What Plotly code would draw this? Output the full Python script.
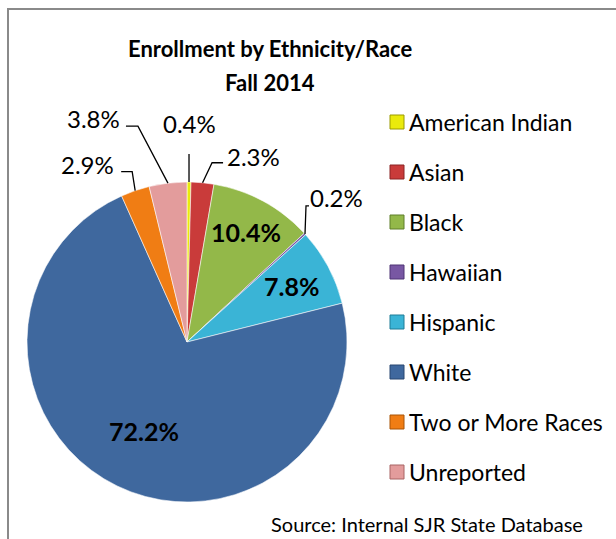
import math
import plotly.graph_objects as go

# ---------------- data ----------------
categories = ["American Indian", "Asian", "Black", "Hawaiian", "Hispanic",
              "White", "Two or More Races", "Unreported"]
values = [0.4, 2.3, 10.4, 0.2, 7.8, 72.2, 2.9, 3.8]
value_labels = ["0.4%", "2.3%", "10.4%", "0.2%", "7.8%", "72.2%", "2.9%", "3.8%"]
title_lines = ["Enrollment by Ethnicity/Race", "Fall 2014"]
source_text = "Source: Internal SJR State Database"

# ---------------- style ----------------
colors = ["#EAEA0C", "#C93B3A", "#93B849", "#7857A3", "#3AB4D6",
          "#3F689E", "#F07D14", "#E39C9C"]
edge_colors = ["#9A9A00", "#8A2424", "#5F7F2A", "#4E3575", "#1F7D97",
               "#294670", "#A85507", "#A86464"]
FONT = "Lato"
W, H = 616, 539
CX, CY, R = 187, 342, 160          # pie centre / radius in pixels


def px(x):
    return x / W


def py(y):
    return 1 - y / H


label_style = {
    "American Indian": dict(kind="out", elbow=(0, -28), run=0, anchor="center", tdx=0, tdy=-14),
    "Asian": dict(kind="out", elbow=(9.5, -20), run=11, anchor="left", tdx=2, tdy=-6),
    "Black": dict(kind="in", frac=0.78),
    "Hawaiian": dict(kind="out", elbow=(1, -28), run=3, anchor="left", tdx=-1, tdy=-8),
    "Hispanic": dict(kind="in", frac=0.74),
    "White": dict(kind="in", frac=0.62),
    "Two or More Races": dict(kind="out", elbow=(-3, -19), run=-11, anchor="right", tdx=-5, tdy=-7),
    "Unreported": dict(kind="out", elbow=(-30, -57), run=-12, anchor="right", tdx=-4, tdy=-8),
}

fig = go.Figure(go.Pie(
    labels=categories,
    values=values,
    sort=False,
    direction="clockwise",
    rotation=0,
    marker=dict(colors=colors, line=dict(color="rgba(255,255,255,0.55)", width=1)),
    textinfo="none",
    hoverinfo="label+percent",
    showlegend=False,
    domain=dict(x=[px(CX - R), px(CX + R)], y=[py(CY + R), py(CY - R)]),
))

annotations = []
shapes = []

total = sum(values)
cum = 0.0
for cat, val, lab in zip(categories, values, value_labels):
    mid = (cum + val / 2) / total * 2 * math.pi
    cum += val
    st = label_style[cat]
    sx, sy = math.sin(mid), -math.cos(mid)
    if st["kind"] == "in":
        x = CX + st["frac"] * R * sx
        y = CY + st["frac"] * R * sy
        annotations.append(dict(x=px(x), y=py(y), xref="paper", yref="paper",
                                text="<b>%s</b>" % lab, showarrow=False,
                                font=dict(family=FONT, size=25, color="black"),
                                xanchor="center", yanchor="middle"))
    else:
        ax, ay = CX + R * sx, CY + R * sy
        ex, ey = ax + st["elbow"][0], ay + st["elbow"][1]
        lx, ly = ex + st["run"], ey
        path = "M %f,%f L %f,%f L %f,%f" % (px(ax), py(ay), px(ex), py(ey), px(lx), py(ly))
        shapes.append(dict(type="path", path=path, xref="paper", yref="paper",
                           line=dict(color="black", width=1.3)))
        annotations.append(dict(x=px(lx + st["tdx"]), y=py(ly + st["tdy"]),
                                xref="paper", yref="paper", text=lab, showarrow=False,
                                font=dict(family=FONT, size=24, color="black"),
                                xanchor=st["anchor"],
                                yanchor="bottom" if st["anchor"] == "center" else "middle"))

# legend (built from categories / colors)
LEG_X, LEG_Y0, LEG_DY, SQ = 390, 122, 50, 14
for i, (cat, col, ec) in enumerate(zip(categories, colors, edge_colors)):
    yc = LEG_Y0 + i * LEG_DY
    shapes.append(dict(type="rect", xref="paper", yref="paper",
                       x0=px(LEG_X), x1=px(LEG_X + SQ), y0=py(yc + SQ / 2), y1=py(yc - SQ / 2),
                       fillcolor=col, line=dict(color=ec, width=1)))
    annotations.append(dict(x=px(LEG_X + SQ + 3), y=py(yc), xref="paper", yref="paper",
                            text=cat, showarrow=False, xanchor="left", yanchor="middle",
                            font=dict(family=FONT, size=23, color="black")))

# title lines
for t, yc in zip(title_lines, [48, 82]):
    annotations.append(dict(x=px(270), y=py(yc), xref="paper", yref="paper",
                            text="<b>%s</b>" % t, showarrow=False,
                            xanchor="center", yanchor="middle",
                            font=dict(family=FONT, size=22, color="black")))

# source note
annotations.append(dict(x=px(585), y=py(524), xref="paper", yref="paper",
                        text=source_text, showarrow=False, xanchor="right", yanchor="middle",
                        font=dict(family=FONT, size=20, color="black")))

# outer frame
shapes.append(dict(type="rect", xref="paper", yref="paper",
                   x0=px(8), x1=px(640), y0=py(9), y1=py(580),
                   line=dict(color="#8A8A8A", width=2), fillcolor="rgba(0,0,0,0)", layer="below"))

fig.update_layout(
    width=W, height=H,
    margin=dict(l=0, r=0, t=0, b=0),
    paper_bgcolor="white",
    plot_bgcolor="white",
    annotations=annotations,
    shapes=shapes,
    showlegend=False,
)

fig.write_html("out.html",
               config={"displayModeBar": False},
               post_script="document.body.style.margin='0px';document.body.style.overflow='hidden';")
